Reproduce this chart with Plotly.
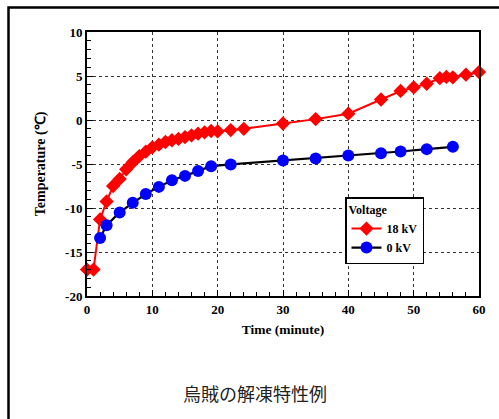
import plotly.graph_objects as go

# 18 kV series
t_18 = [0, 1, 2, 3, 4, 5, 6, 7, 8, 9, 10, 11, 12, 13, 14, 15, 16, 17, 18, 19, 20,
        22, 24, 30, 35, 40, 45, 48, 50, 52, 54, 55, 56, 58, 60]
temp_18 = [-17.0, -17.0, -11.3, -9.25, -7.5, -6.7, -5.6, -4.8, -4.1, -3.6, -3.1,
           -2.8, -2.5, -2.3, -2.15, -1.95, -1.75, -1.55, -1.4, -1.25, -1.3,
           -1.15, -1.0, -0.4, 0.1, 0.72, 2.33, 3.3, 3.7, 4.12, 4.75, 4.9, 4.85,
           5.15, 5.45]

# 0 kV series
t_0 = [2, 3, 5, 7, 9, 11, 13, 15, 17, 19, 22, 30, 35, 40, 45, 48, 52, 56]
temp_0 = [-13.4, -11.95, -10.5, -9.4, -8.4, -7.6, -6.85, -6.35, -5.8, -5.25,
          -5.05, -4.6, -4.37, -4.03, -3.77, -3.58, -3.31, -3.05]

x_ticks = [0, 10, 20, 30, 40, 50, 60]
y_ticks = [-20, -15, -10, -5, 0, 5, 10]

series_names = ["18 kV", "0 kV"]
title_text = "烏賊の解凍特性例"

W, H = 499, 419
ML, MR, MT, MB = 87, 20, 32, 123
pw = W - ML - MR
ph = H - MT - MB

serif = "Liberation Serif, Times New Roman, serif"

fig = go.Figure()
fig.add_trace(go.Scatter(
    x=t_18, y=temp_18, name=series_names[0], mode="lines+markers",
    line=dict(color="#ff0000", width=2),
    marker=dict(symbol="diamond", size=11, color="#ff0000"),
    cliponaxis=False,
))
fig.add_trace(go.Scatter(
    x=t_0, y=temp_0, name=series_names[1], mode="lines+markers",
    line=dict(color="#000000", width=2.2),
    marker=dict(symbol="circle", size=12, color="#0000ff"),
    cliponaxis=False,
))

axis_common = dict(
    showline=True, linewidth=2, linecolor="black", mirror=True,
    showgrid=True, gridcolor="#333333", griddash="dot", gridwidth=1,
    zeroline=False,
    ticks="inside", ticklen=6, tickwidth=1.2, tickcolor="black",
    tickfont=dict(family=serif, size=13, color="black", weight="bold"),
)

fig.update_xaxes(
    range=[0, 60], tickmode="array", tickvals=x_ticks,
    ticktext=[str(v) for v in x_ticks],
    minor=dict(dtick=2, tick0=0, ticks="inside", ticklen=4, tickcolor="black",
               showgrid=False),
    title=dict(text="Time (minute)",
               font=dict(family=serif, size=13.5, color="black", weight="bold"),
               standoff=9),
    **axis_common,
)
fig.update_yaxes(
    range=[-20, 10], tickmode="array", tickvals=y_ticks,
    ticktext=[str(v) for v in y_ticks],
    minor=dict(dtick=1, tick0=0, ticks="inside", ticklen=4, tickcolor="black",
               showgrid=False),
    title=dict(text="Temperature (℃)",
               font=dict(family=serif, size=14, color="black", weight="bold"),
               standoff=16),
    **axis_common,
)

def px_to_paper_x(px):
    return (px - ML) / pw

def px_to_paper_y(py):
    return (H - MB - py) / ph

# outer frame (extends past right and bottom edges)
fig.add_shape(type="rect", xref="paper", yref="paper",
              x0=px_to_paper_x(8.5), x1=px_to_paper_x(510),
              y0=px_to_paper_y(430), y1=px_to_paper_y(7.5),
              line=dict(color="black", width=2.5), fillcolor="rgba(0,0,0,0)",
              layer="below")

fig.add_annotation(text=title_text, xref="paper", yref="paper",
                   x=px_to_paper_x(255), y=px_to_paper_y(393),
                   xanchor="center", yanchor="middle", showarrow=False,
                   font=dict(family="Noto Sans CJK JP", size=18, color="#222222"))

fig.update_layout(
    width=W, height=H,
    margin=dict(l=ML, r=MR, t=MT, b=MB),
    paper_bgcolor="white", plot_bgcolor="white",
    showlegend=True,
    legend=dict(
        title=dict(text="Voltage",
                   font=dict(family=serif, size=12, color="black", weight="bold")),
        font=dict(family=serif, size=12, color="black", weight="bold"),
        x=px_to_paper_x(345), y=px_to_paper_y(197),
        xanchor="left", yanchor="top",
        bgcolor="white", bordercolor="black", borderwidth=1.5,
        itemwidth=30, tracegroupgap=0,
    ),
)

fig.write_html("out.html", config={"displayModeBar": False},
               post_script="document.body.style.margin='0';document.body.style.overflow='hidden';")
